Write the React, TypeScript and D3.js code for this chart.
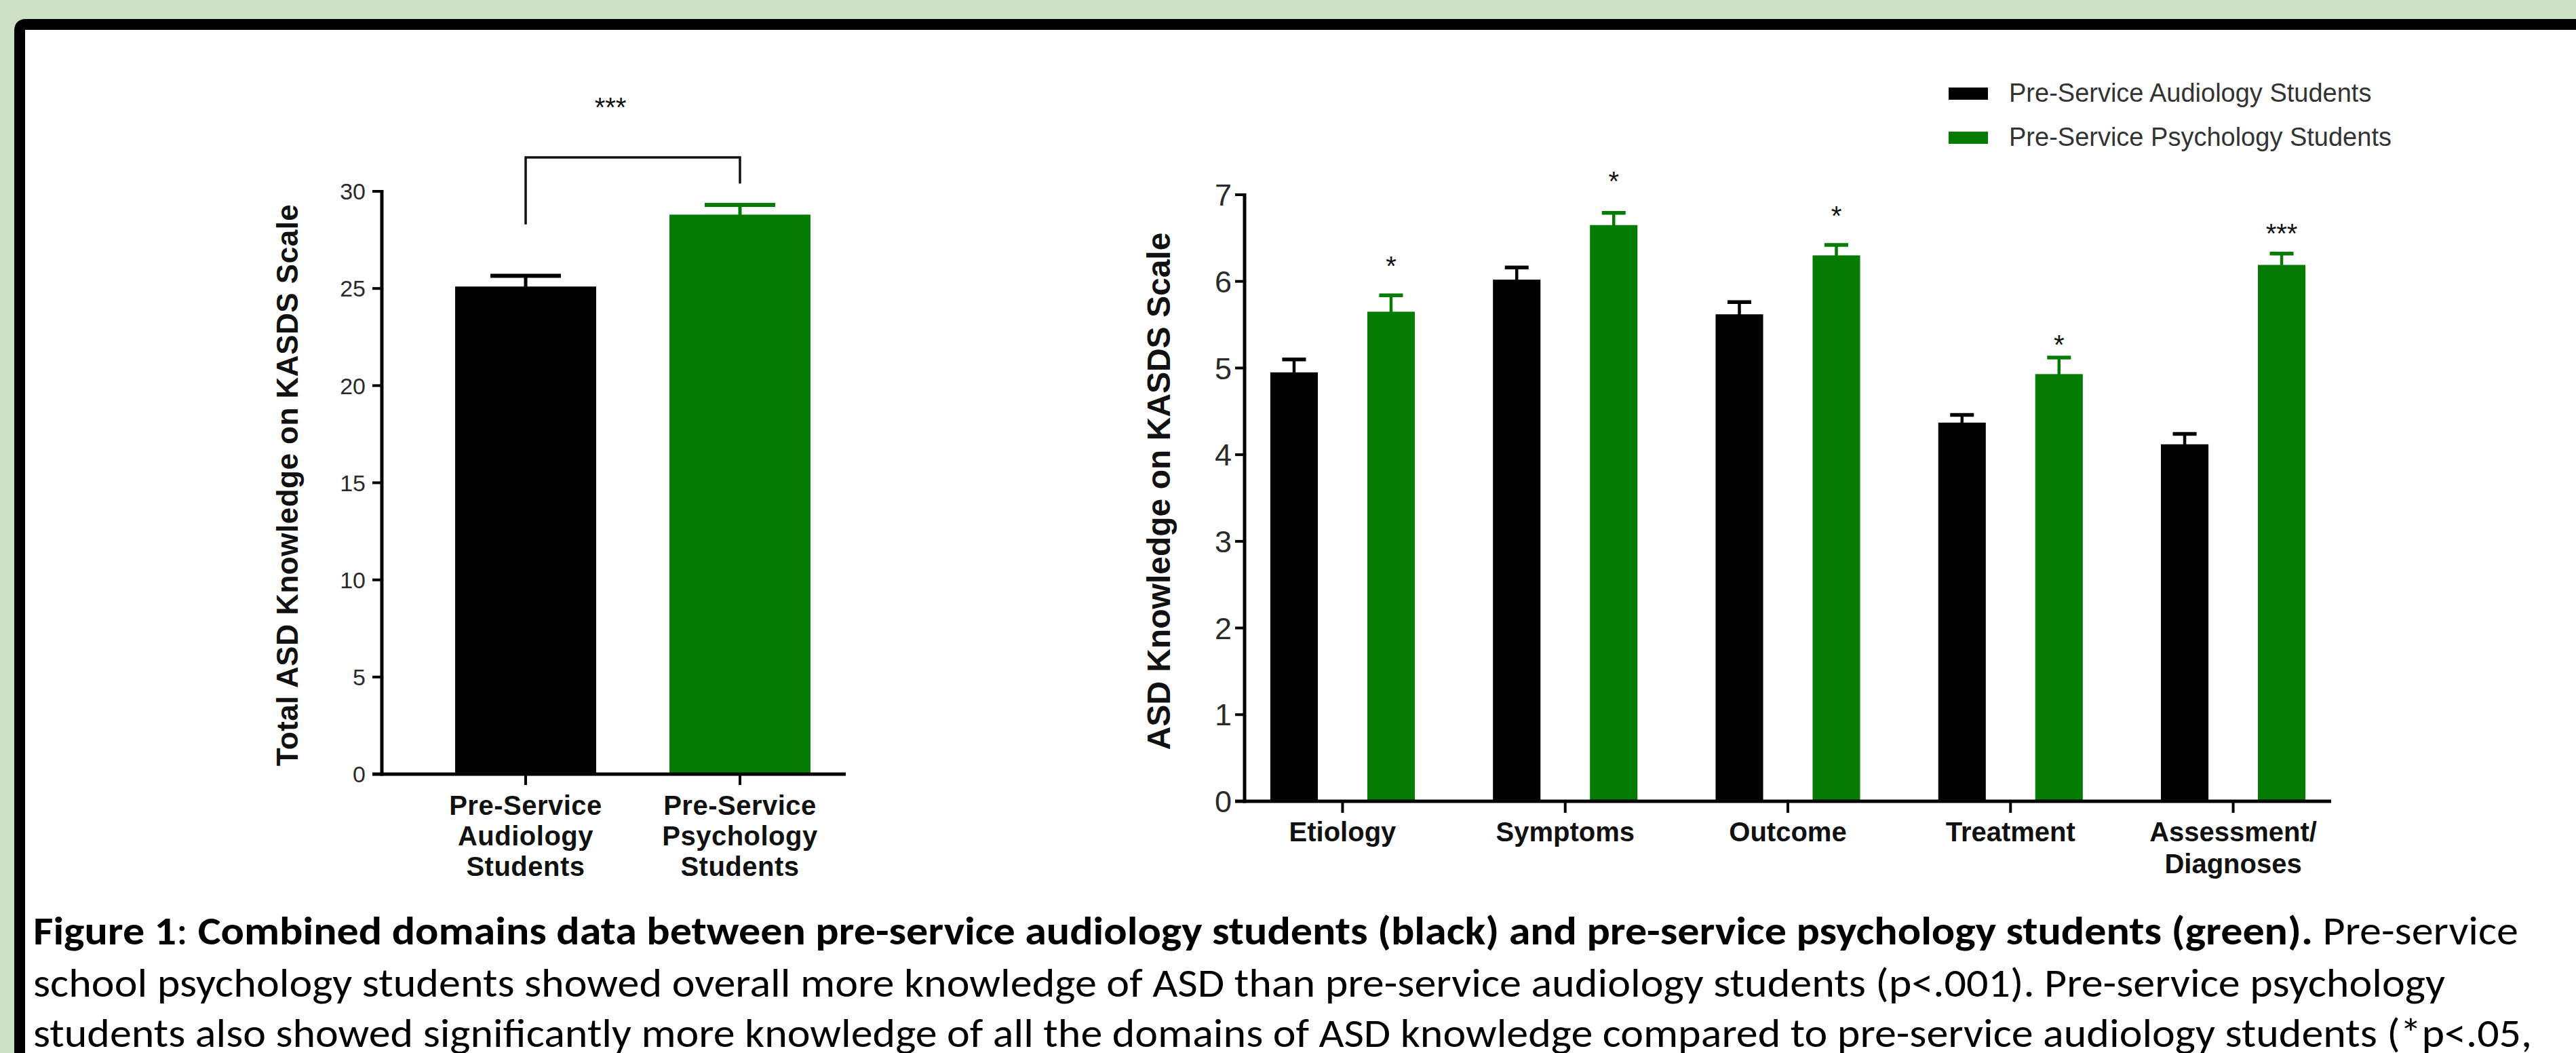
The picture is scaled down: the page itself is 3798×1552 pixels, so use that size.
import React from "react";
import * as d3 from "d3";

// ---------- data ----------
const totalGroups = ["Pre-Service Audiology Students", "Pre-Service Psychology Students"];
const totalGroupLines = [
  ["Pre-Service", "Audiology", "Students"],
  ["Pre-Service", "Psychology", "Students"],
];
const totalMeans = [25.1, 28.8];
const totalErr = [0.55, 0.5];
const totalTicks = [0, 5, 10, 15, 20, 25, 30];
const totalSig = "***";
const bracketTop = 31.75;
const bracketLegs = [28.3, 30.4];
const totalSigLevel = 34.6;

const domains = ["Etiology", "Symptoms", "Outcome", "Treatment", "Assessment/ Diagnoses"];
const domainLines = [["Etiology"], ["Symptoms"], ["Outcome"], ["Treatment"], ["Assessment/", "Diagnoses"]];
const seriesNames = ["Pre-Service Audiology Students", "Pre-Service Psychology Students"];
const audiologyMeans = [4.95, 6.02, 5.62, 4.37, 4.12];
const audiologyErr = [0.15, 0.14, 0.14, 0.09, 0.12];
const psychologyMeans = [5.65, 6.65, 6.3, 4.93, 6.19];
const psychologyErr = [0.19, 0.14, 0.12, 0.19, 0.13];
const domainSig = ["*", "*", "*", "*", "***"];
const domainSigLevel = [6.24, 7.22, 6.82, 5.33, 6.62];
const domainTicks = [0, 1, 2, 3, 4, 5, 6, 7];

const captionBoldLead = "Figure 1";
const captionBold1 = " Combined domains data between pre-service audiology students (black) and pre-service psychology students (green).";
const captionRest1 = " Pre-service";
const captionLine2 = "school psychology students showed overall more knowledge of ASD than pre-service audiology students (p<.001). Pre-service psychology";
const captionLine3 = "students also showed significantly more knowledge of all the domains of ASD knowledge compared to pre-service audiology students (*p<.05,";

// ---------- style ----------
const W = 3798;
const H = 1552;
const BG = "#cee1c6";
const GREEN = "#047c04";
const colors = ["#000000", GREEN];
const AX = "#000";
const TICKTXT = "#2b2b2b";
const FONT = "'Liberation Sans', Arial, Helvetica, sans-serif";
const CAPFONT = "Carlito, Lato, 'Open Sans', sans-serif";

export default function App() {
  // left chart scales
  const yL = d3.scaleLinear().domain([0, 30]).range([1141, 282]);
  const xL = d3
    .scaleBand<string>()
    .domain(totalGroups)
    .range([563, 1303])
    .paddingInner(0.342)
    .paddingOuter(0.342);
  const bwL = xL.bandwidth();

  // right chart scales
  const yR = d3.scaleLinear().domain([0, 7]).range([1181, 287]);
  const xR = d3.scalePoint<string>().domain(domains).range([1835, 3437]).padding(0.44);
  const xSub = d3
    .scaleBand<string>()
    .domain(seriesNames)
    .range([-143, 143])
    .paddingInner(0.51)
    .paddingOuter(0.255);
  const bwR = xSub.bandwidth();

  const rightSeries = [
    { name: seriesNames[0], means: audiologyMeans, errs: audiologyErr, color: colors[0] },
    { name: seriesNames[1], means: psychologyMeans, errs: psychologyErr, color: colors[1] },
  ];

  const lc0 = (xL(totalGroups[0]) as number) + bwL / 2;
  const lc1 = (xL(totalGroups[1]) as number) + bwL / 2;

  return (
    <svg
      width={W}
      height={H}
      viewBox={`0 0 ${W} ${H}`}
      style={{ position: "absolute", left: 0, top: 0, display: "block", overflow: "hidden" }}
    >
      <rect x={0} y={0} width={W} height={H} fill={BG} />
      {/* white panel with black frame on top and left only (continues beyond the crop) */}
      <path d={`M29,${H + 30}V45Q29,36 38,36H${W + 30}V${H + 30}Z`} fill="#ffffff" />
      <path d={`M29,${H + 30}V45Q29,36 38,36H${W + 30}`} fill="none" stroke="#000" strokeWidth={16} />

      {/* ---------------- LEFT CHART ---------------- */}
      <g fontFamily={FONT}>
        {totalGroups.map((g, i) => (
          <rect
            key={g}
            x={xL(g) as number}
            y={yL(totalMeans[i])}
            width={bwL}
            height={yL(0) - yL(totalMeans[i])}
            fill={colors[i]}
          />
        ))}
        {totalGroups.map((g, i) => {
          const cx = (xL(g) as number) + bwL / 2;
          return (
            <g key={g + "e"} stroke={colors[i]}>
              <line x1={cx} x2={cx} y1={yL(totalMeans[i]) + 2} y2={yL(totalMeans[i] + totalErr[i])} strokeWidth={5} />
              <line
                x1={cx - bwL / 4}
                x2={cx + bwL / 4}
                y1={yL(totalMeans[i] + totalErr[i])}
                y2={yL(totalMeans[i] + totalErr[i])}
                strokeWidth={6}
              />
            </g>
          );
        })}
        <line x1={563} x2={563} y1={yL(30) - 2} y2={yL(0) + 2.5} stroke={AX} strokeWidth={5} />
        <line x1={549} x2={1247} y1={yL(0)} y2={yL(0)} stroke={AX} strokeWidth={5} />
        {totalTicks.map((t) => (
          <g key={t}>
            <line x1={549} x2={563} y1={yL(t)} y2={yL(t)} stroke={AX} strokeWidth={4} />
            <text x={539} y={yL(t)} dy="0.36em" textAnchor="end" fontSize={34} fill={TICKTXT}>
              {t}
            </text>
          </g>
        ))}
        {totalGroups.map((g, i) => {
          const cx = (xL(g) as number) + bwL / 2;
          return (
            <g key={g + "t"}>
              <line x1={cx} x2={cx} y1={yL(0)} y2={yL(0) + 16} stroke={AX} strokeWidth={4} />
              {totalGroupLines[i].map((ln, j) => (
                <text
                  key={ln}
                  x={cx}
                  y={1201 + j * 45}
                  textAnchor="middle"
                  fontSize={40}
                  fontWeight="bold"
                  fill="#111"
                  letterSpacing={0.5}
                >
                  {ln}
                </text>
              ))}
            </g>
          );
        })}
        <text
          transform={`translate(439, 715) rotate(-90)`}
          textAnchor="middle"
          fontSize={44}
          fontWeight="bold"
          fill="#111"
          letterSpacing={0.5}
        >
          Total ASD Knowledge on KASDS Scale
        </text>
        <path
          d={`M${lc0},${yL(bracketLegs[0])}V${yL(bracketTop)}H${lc1}V${yL(bracketLegs[1])}`}
          fill="none"
          stroke="#111"
          strokeWidth={3.5}
        />
        <text x={(lc0 + lc1) / 2 - 33} y={yL(totalSigLevel) + 22} textAnchor="middle" fontSize={40} fill="#111">
          {totalSig}
        </text>
      </g>

      {/* ---------------- RIGHT CHART ---------------- */}
      <g fontFamily={FONT}>
        {rightSeries.map((s) =>
          domains.map((d, i) => {
            const x0 = (xR(d) as number) + (xSub(s.name) as number);
            return (
              <rect
                key={s.name + d}
                x={x0}
                y={yR(s.means[i])}
                width={bwR}
                height={yR(0) - yR(s.means[i])}
                fill={s.color}
              />
            );
          })
        )}
        {rightSeries.map((s) =>
          domains.map((d, i) => {
            const cx = (xR(d) as number) + (xSub(s.name) as number) + bwR / 2;
            const top = yR(s.means[i] + s.errs[i]);
            return (
              <g key={s.name + d + "e"} stroke={s.color}>
                <line x1={cx} x2={cx} y1={yR(s.means[i]) + 2} y2={top} strokeWidth={4.5} />
                <line x1={cx - bwR / 4} x2={cx + bwR / 4} y1={top} y2={top} strokeWidth={5.5} />
              </g>
            );
          })
        )}
        {domains.map((d, i) => {
          const cx = (xR(d) as number) + (xSub(seriesNames[1]) as number) + bwR / 2;
          return (
            <text key={d + "s"} x={cx} y={yR(domainSigLevel[i]) + 22} textAnchor="middle" fontSize={40} fill="#111">
              {domainSig[i]}
            </text>
          );
        })}
        <line x1={1835} x2={1835} y1={yR(7) - 2} y2={yR(0) + 2.5} stroke={AX} strokeWidth={5} />
        <line x1={1821} x2={3437} y1={yR(0)} y2={yR(0)} stroke={AX} strokeWidth={5} />
        {domainTicks.map((t) => (
          <g key={t}>
            <line x1={1821} x2={1835} y1={yR(t)} y2={yR(t)} stroke={AX} strokeWidth={4} />
            <text x={1816} y={yR(t)} dy="0.36em" textAnchor="end" fontSize={45} fill={TICKTXT}>
              {t}
            </text>
          </g>
        ))}
        {domains.map((d, i) => {
          const cx = xR(d) as number;
          return (
            <g key={d + "t"}>
              <line x1={cx} x2={cx} y1={yR(0)} y2={yR(0) + 17} stroke={AX} strokeWidth={4} />
              {domainLines[i].map((ln, j) => (
                <text
                  key={ln}
                  x={cx}
                  y={1240 + j * 47}
                  textAnchor="middle"
                  fontSize={40}
                  fontWeight="bold"
                  fill="#111"
                >
                  {ln}
                </text>
              ))}
            </g>
          );
        })}
        <text
          transform={`translate(1725, 724) rotate(-90)`}
          textAnchor="middle"
          fontSize={48}
          fontWeight="bold"
          fill="#111"
        >
          ASD Knowledge on KASDS Scale
        </text>
        {seriesNames.map((s, i) => (
          <g key={s + "lg"}>
            <rect x={2873} y={129 + i * 65} width={58} height={18} fill={colors[i]} />
            <text x={2962} y={150 + i * 65} fontSize={38} fill="#333">
              {s}
            </text>
          </g>
        ))}
      </g>

      {/* ---------------- CAPTION ---------------- */}
      <g fontFamily={CAPFONT} fontSize={59} fill="#000">
        <text x={49} y={1392} textLength={3664} lengthAdjust="spacingAndGlyphs">
          <tspan fontWeight="bold">{captionBoldLead}</tspan>
          <tspan>:</tspan>
          <tspan fontWeight="bold">{captionBold1}</tspan>
          <tspan>{captionRest1}</tspan>
        </text>
        <text x={49} y={1469} textLength={3556} lengthAdjust="spacingAndGlyphs">
          {captionLine2}
        </text>
        <text x={49} y={1543} textLength={3684} lengthAdjust="spacingAndGlyphs">
          {captionLine3}
        </text>
      </g>
    </svg>
  );
}
